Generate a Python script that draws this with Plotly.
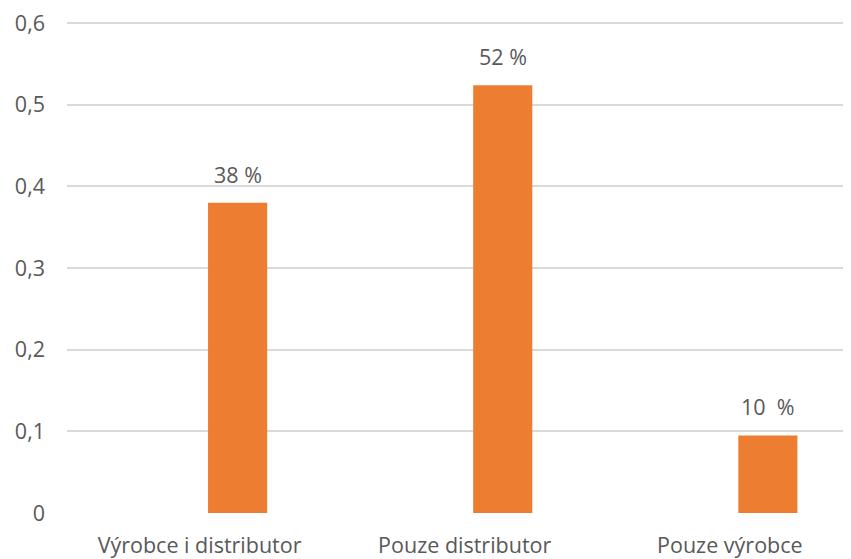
import plotly.graph_objects as go

categories = ["Výrobce i distributor", "Pouze distributor", "Pouze výrobce"]
values = [0.38, 0.524, 0.095]
labels = ["38 %", "52 %", "10\u00a0 %"]
y_ticks = [0, 0.1, 0.2, 0.3, 0.4, 0.5, 0.6]

positions = list(range(len(categories)))
bar_offset = 0.032
bar_width = 0.223
centers = [p + bar_offset + bar_width / 2 for p in positions]

FONT = "Open Sans"
SIZE = 21.5
GREY = "#595959"

fig = go.Figure(
    go.Bar(
        x=positions,
        y=values,
        offset=bar_offset,
        width=bar_width,
        marker_color="#ED7D31",
        marker_line_width=0,
        hoverinfo="skip",
    )
)

for c, v, t in zip(centers, values, labels):
    fig.add_annotation(
        x=c, y=v, text=t, showarrow=False, yanchor="bottom", yshift=12,
        font=dict(family=FONT, size=SIZE, color=GREY),
    )

fig.update_layout(
    width=843,
    height=551,
    margin=dict(l=59, r=0, t=14, b=38),
    plot_bgcolor="white",
    paper_bgcolor="white",
    separators=", ",
    font=dict(family=FONT, size=SIZE, color=GREY),
    showlegend=False,
)
fig.update_xaxes(
    range=[-0.5, 2.457],
    tickvals=positions,
    ticktext=categories,
    showgrid=False,
    zeroline=False,
    showline=False,
    ticks="",
    ticklabelstandoff=17,
    ticklabeloverflow="allow",
)
fig.update_yaxes(
    range=[0, 0.6015],
    tickvals=y_ticks,
    gridcolor="#d9d9d9",
    gridwidth=2,
    zeroline=False,
    showline=False,
    ticks="",
    ticklabelstandoff=21,
    ticklabeloverflow="allow",
)

fig.write_html("out.html")
